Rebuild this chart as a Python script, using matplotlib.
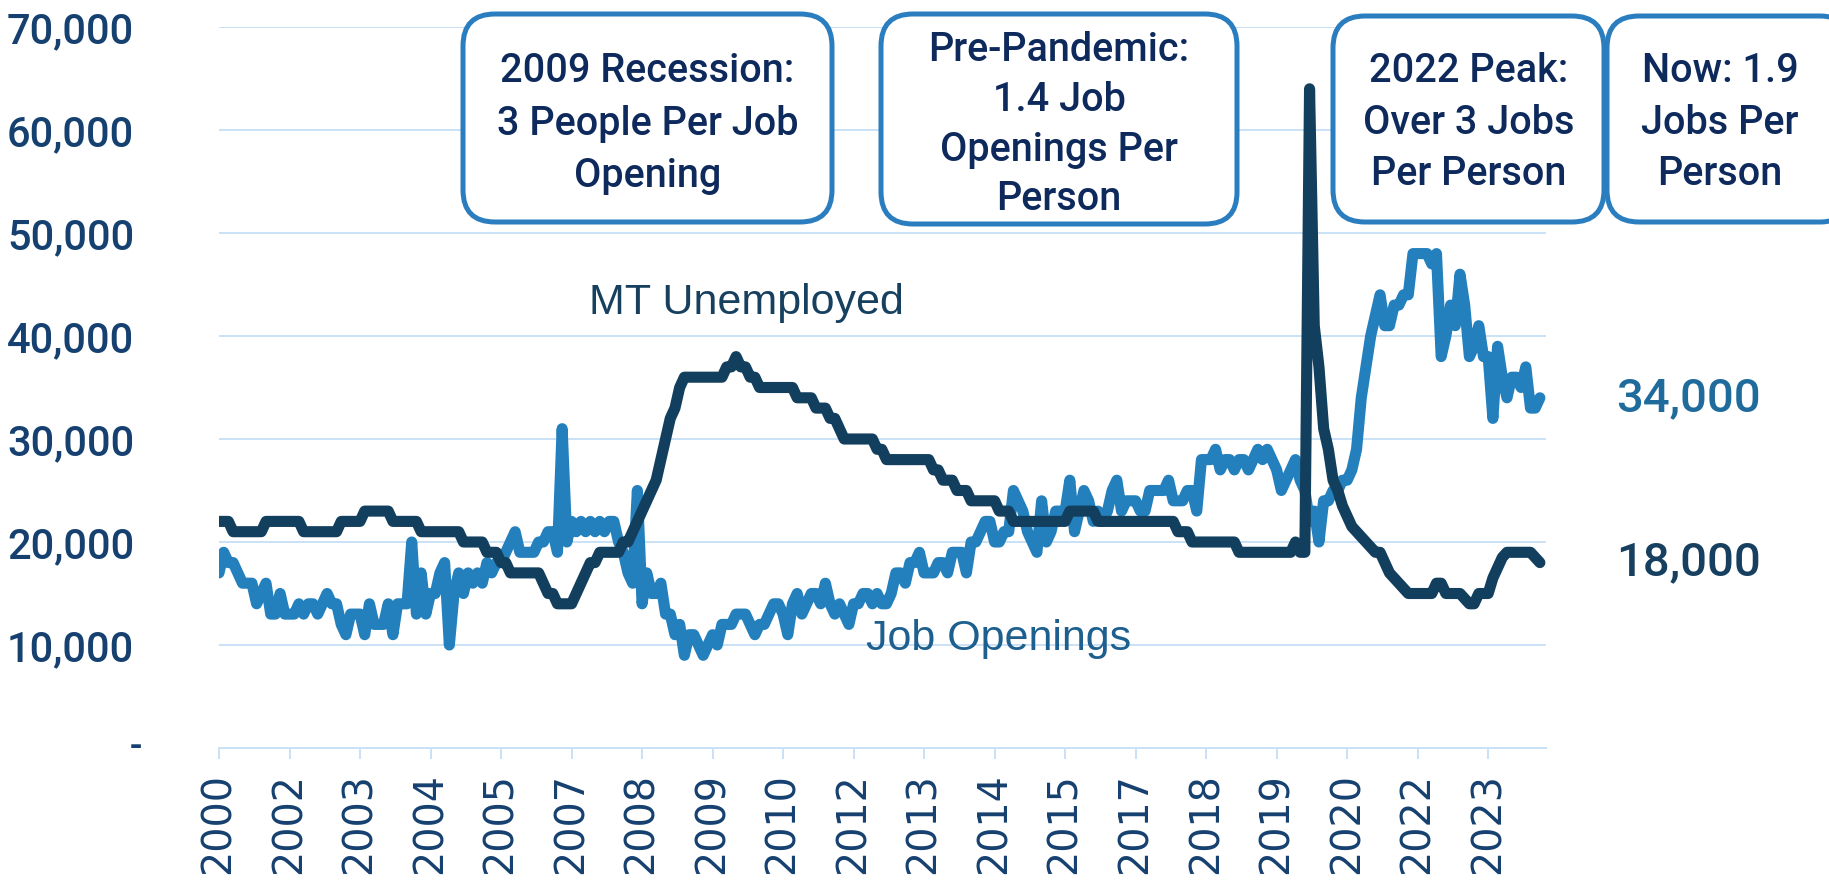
import numpy as np
import pandas as pd
import matplotlib
matplotlib.use("Agg")
import matplotlib.pyplot as plt
from matplotlib.patches import FancyBboxPatch

# Montana, monthly, in thousands of people, first month is Dec 2000
START = "2000-12-01"

unemployed = [
    22, 22, 22, 21, 21, 21, 21, 21, 21, 21, 22, 22,
    22, 22, 22, 22, 22, 22, 21, 21, 21, 21, 21, 21,
    21, 21, 22, 22, 22, 22, 22, 23, 23, 23, 23, 23,
    23, 22, 22, 22, 22, 22, 22, 21, 21, 21, 21, 21,
    21, 21, 21, 21, 20, 20, 20, 20, 20, 19, 19, 19,
    18, 18, 17, 17, 17, 17, 17, 17, 17, 16, 15, 15,
    14, 14, 14, 14, 15, 16, 17, 18, 18, 19, 19, 19,
    19, 19, 20, 20, 21, 22, 23, 24, 25, 26, 28, 30,
    32, 33, 35, 36, 36, 36, 36, 36, 36, 36, 36, 36,
    37, 37, 38, 37, 37, 36, 36, 35, 35, 35, 35, 35,
    35, 35, 35, 34, 34, 34, 34, 33, 33, 33, 32, 32,
    31, 30, 30, 30, 30, 30, 30, 30, 29, 29, 28, 28,
    28, 28, 28, 28, 28, 28, 28, 28, 27, 27, 26, 26,
    26, 25, 25, 25, 24, 24, 24, 24, 24, 24, 23, 23,
    23, 22, 22, 22, 22, 22, 22, 22, 22, 22, 22, 22,
    22, 23, 23, 23, 23, 23, 23, 22, 22, 22, 22, 22,
    22, 22, 22, 22, 22, 22, 22, 22, 22, 22, 22, 22,
    21, 21, 21, 20, 20, 20, 20, 20, 20, 20, 20, 20,
    20, 19, 19, 19, 19, 19, 19, 19, 19, 19, 19, 19,
    19, 20, 19, 19, 64, 41, 37, 31, 29, 26, 25, 23.5,
    22.5, 21.5, 21, 20.5, 20, 19.5, 19, 19, 18, 17, 16.5, 16,
    15.5, 15, 15, 15, 15, 15, 15, 16, 16, 15, 15, 15,
    15, 14.5, 14, 14, 15, 15, 15, 16.5, 17.5, 18.5, 19, 19,
    19, 19, 19, 19, 18.5, 18,
]

job_openings = [
    17, 19, 18, 18, 17, 16, 16, 16, 14, 15, 16, 13,
    13, 15, 13, 13, 13, 14, 13, 14, 14, 13, 14, 15,
    14, 14, 12, 11, 13, 13, 13, 11, 14, 12, 12, 12,
    14, 11, 14, 14, 14, 20, 13, 17, 13, 15, 15, 17,
    18, 10, 15, 17, 15, 17, 16, 17, 16, 18, 17, 18,
    18, 19, 20, 21, 19, 19, 19, 19, 20, 20, 21, 21,
    19, 31, 20, 22, 21, 22, 21, 22, 21, 22, 21, 22,
    22, 20, 19, 17, 16, 25, 14, 17, 15, 15, 16, 13,
    13, 11, 12, 9, 11, 11, 10, 9, 10, 11, 10, 12,
    12, 12, 13, 13, 13, 12, 11, 12, 12, 13, 14, 14,
    13, 11, 14, 15, 13, 14, 15, 15, 14, 16, 14, 13,
    14, 13, 12, 14, 14, 15, 15, 14, 15, 14, 14, 15,
    17, 17, 16, 18, 18, 19, 17, 17, 17, 18, 18, 17,
    19, 19, 19, 17, 20, 20, 21, 22, 22, 20, 20, 21,
    21, 25, 24, 23, 21, 20, 19, 24, 20, 21, 23, 23,
    23, 26, 21, 23, 25, 24, 22, 23, 22, 23, 25, 26,
    23, 24, 24, 24, 23, 23, 25, 25, 25, 25, 26, 24,
    24, 24, 25, 25, 23, 28, 28, 28, 29, 27, 28, 28,
    27, 28, 28, 27, 28, 29, 28, 29, 28, 27, 25, 26,
    27, 28, 26, 25, 22, 23, 20, 24, 24, 25, 25, 26,
    26, 27, 29, 34, 37, 40, 42, 44, 41, 41, 43, 43,
    44, 44, 48, 48, 48, 48, 47, 48, 38, 40, 43, 41,
    46, 43, 38, 39, 41, 38, 38, 32, 39, 36, 34, 36,
    36, 35, 37, 33, 33, 34,
]

end_labels = ["34,000", "18,000"]
end_values = [34000, 18000]

box_lines = [
    ["2009 Recession:", "3 People Per Job", "Opening"],
    ["Pre-Pandemic:", "1.4 Job", "Openings Per", "Person"],
    ["2022 Peak:", "Over 3 Jobs", "Per Person"],
    ["Now: 1.9", "Jobs Per", "Person"],
]

# colours
C_UNEMP = "#133f5e"
C_OPEN = "#2380bd"
C_GRID = "#c9e1f6"
C_TICK = "#15406f"
C_BOXTXT = "#0e2a5c"

W, H = 1829, 890
fig = plt.figure(figsize=(W / 100, H / 100), dpi=100)

months = pd.date_range(START, periods=len(unemployed), freq="MS")
x = np.arange(len(months))
unemp = np.array(unemployed) * 1000
opens = np.array(job_openings) * 1000

# axes placed in pixels: left 219, right 1546, zero line 748, top (70k) 27
ax = fig.add_axes([219 / W, (H - 748) / H, (1546 - 219) / W, (748 - 27) / H])
ax.plot(x, opens, color=C_OPEN, lw=8, solid_joinstyle="round", solid_capstyle="round", zorder=3)
ax.plot(x, unemp, color=C_UNEMP, lw=8, solid_joinstyle="round", solid_capstyle="round", zorder=4)

ax.set_xlim(0, len(x) + 0.3)
ax.set_ylim(0, 70000)

yt = np.arange(0, 70001, 10000)
ax.set_yticks(yt)
ax.set_yticklabels(["" if v == 0 else f"{v:,}" for v in yt])
# Excel-style dash for zero, sits a little right of the numbers
ax.text(-0.063, 0, "-", transform=ax.get_yaxis_transform(), fontsize=27, fontweight="medium",
        family="Roboto", color=C_TICK, ha="center", va="center")

tick_idx = np.arange(0, len(months), 15)
ax.set_xticks(tick_idx)
ax.set_xticklabels([str(months[i].year) for i in tick_idx], rotation=90)

ax.yaxis.grid(True, color=C_GRID, lw=1.4)
ax.set_axisbelow(True)
for s in ["left", "right", "top"]:
    ax.spines[s].set_visible(False)
ax.spines["bottom"].set_color(C_GRID)
ax.spines["bottom"].set_linewidth(1.4)

ax.tick_params(axis="y", length=0, pad=61, labelsize=30, labelcolor=C_TICK)
ax.tick_params(axis="x", length=8, width=1.4, color=C_GRID, pad=10, labelsize=28.5, labelcolor=C_TICK)
for lab in ax.get_yticklabels():
    lab.set_family("Roboto")
    lab.set_fontweight("medium")

# inline series labels
ax.text(78.7, 43200, "MT Unemployed", fontsize=31, family="Liberation Sans",
        color="#17405f", ha="left", va="center")
ax.text(137.7, 10600, "Job Openings", fontsize=31, family="Liberation Sans",
        color="#1d5f8e", ha="left", va="center")

# end values on the right
end_colors = ["#1f6b9c", "#173f5f"]
for lab, v, c in zip(end_labels, end_values, end_colors):
    ax.text(297.2, v, lab, fontsize=34, family="Roboto", fontweight="medium", color=c,
            ha="left", va="center", clip_on=False)

# overlay in pixel coordinates for the callout boxes
ov = fig.add_axes([0, 0, 1, 1], zorder=10)
ov.set_xlim(0, W)
ov.set_ylim(H, 0)
ov.axis("off")

boxes_px = [(463, 14, 369, 208), (881, 14, 356, 210), (1333, 16, 271, 206), (1607, 16, 245, 206)]
lines_y = [[71, 124, 176], [50, 100, 150, 199], [71, 123, 174], [71, 123, 174]]

for (bx, by, bw, bh), lines, ys in zip(boxes_px, box_lines, lines_y):
    ov.add_patch(FancyBboxPatch((bx, by), bw, bh, boxstyle="round,pad=0,rounding_size=32",
                                fc="white", ec="#2a7dbf", lw=3.6))
    cx = bx + bw / 2 if bx + bw <= W else bx + 113
    for line, ly in zip(lines, ys):
        ov.text(cx, ly, line, fontsize=28.5, family="Roboto", fontweight="medium",
                color=C_BOXTXT, ha="center", va="center")

fig.savefig("out.png", dpi=100)
